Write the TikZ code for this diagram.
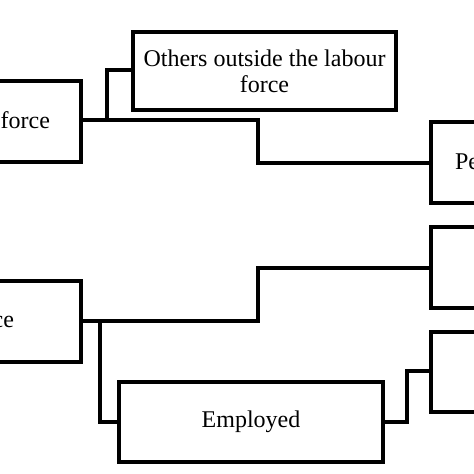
\documentclass[tikz,border=0pt]{standalone}
\usepackage{fontspec}
\setmainfont{Liberation Serif}
\begin{document}
\begin{tikzpicture}[x=1pt,y=-1pt,
  box/.style={draw, line width=4.5pt, rectangle, inner sep=0pt, outer sep=0pt, line join=miter, align=center, font=\fontsize{24}{26}\selectfont},
  conn/.style={line width=4.5pt, line join=miter},
  lbl/.style={font=\fontsize{24}{26}\selectfont, inner sep=0pt, outer sep=0pt}]
\clip (0,0) rectangle (474,474);
% boxes
\node[box, minimum width=181pt, minimum height=81pt] (A) at (-9.5,121.5) {};
\node[box, minimum width=263pt, minimum height=78pt] (B) at (264.5,71) {Others outside the labour\\force};
\node[box, minimum width=130pt, minimum height=81pt] (C) at (496,162.5) {};
\node[box, minimum width=181pt, minimum height=81pt] (D) at (-9.5,321.5) {};
\node[box, minimum width=130pt, minimum height=81pt] (E) at (496,267.5) {};
\node[box, minimum width=130pt, minimum height=80pt] (F) at (496,372) {};
\node[box, minimum width=264pt, minimum height=80pt] (G) at (251,422) {Employed};
% visible text fragments of cut-off boxes
\node[lbl, anchor=base east] (At) at (50,128) {force};
\node[lbl, anchor=base east] (Dt) at (14,327) {ce};
\node[lbl, anchor=base west] (Ct) at (455,169) {Pe};
% connectors
\coordinate (a1) at (107,120);
\draw[conn] (A.east |- 0,120) -- (258,120) -- (258,163) -- (C.west |- 0,163);
\draw[conn] (a1) -- (107,70) -- (B.west |- 0,70);
\coordinate (d1) at (100,321);
\draw[conn] (D.east |- 0,321) -- (258,321) -- (258,268) -- (E.west |- 0,268);
\draw[conn] (d1) -- (100,422) -- (G.west);
\draw[conn] (G.east) -- (407,422) -- (407,371) -- (F.west |- 0,371);
\end{tikzpicture}
\end{document}
